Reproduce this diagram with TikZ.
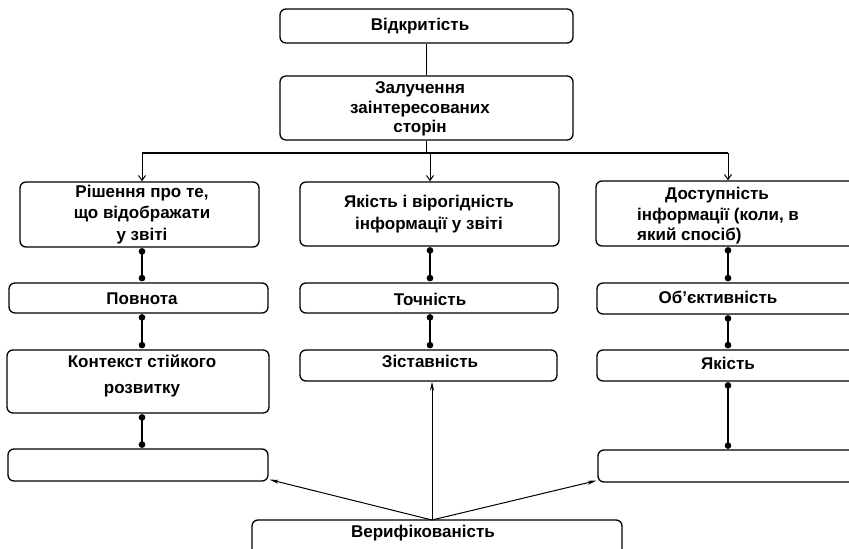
\documentclass[tikz,border=0pt]{standalone}
\usepackage{fontspec}
\setmainfont{Liberation Sans}
\usetikzlibrary{arrows.meta}
\newcommand\rbox[5]{\node[box, minimum width={#4pt-#2pt}, minimum height={#5pt-#3pt}] (#1) at ({(#2+#4)/2},{(#3+#5)/2}) {};}
\begin{document}
\begin{tikzpicture}[x=1pt,y=-1pt,
  box/.style={draw, line width=1.3pt, rounded corners=6pt, inner sep=0pt},
  txt/.style={font=\fontsize{17}{20.5}\selectfont\bfseries, align=center, inner sep=0pt},
  dotlink/.style={{Circle[length=6.5pt]}-{Circle[length=6.5pt]}, line width=2pt},
  dotlinkthin/.style={{Circle[length=6.5pt]}-{Circle[length=6.5pt]}, line width=1.2pt},
  branch/.style={-{Straight Barb[length=5pt,width=7pt]}, line width=1pt},
  verarrow/.style={-{Stealth[length=9pt,width=4pt]}, line width=1pt},
  plain/.style={line width=1.3pt}]
\useasboundingbox (0,0) rectangle (849,549);
\clip (0,0) rectangle (849,549);
\fill[white] (0,0) rectangle (849,549);
% columns
\coordinate (cL) at (142,0);
\coordinate (cM) at (430,0);
\coordinate (cR) at (728,0);
\coordinate (cT) at (426.5,0);
% boxes
\rbox{open}{280}{9}{573}{43}
\rbox{zal}{280}{76}{573}{140}
\rbox{rish}{20}{182}{259}{247}
\rbox{povn}{9}{283}{268}{313}
\rbox{kont}{7}{350}{269}{413}
\rbox{lastL}{8}{449}{268}{481}
\rbox{yak}{300}{182}{559}{246}
\rbox{toch}{300}{283}{558}{313}
\rbox{zist}{300}{350}{557}{381}
\rbox{dost}{596}{181}{856}{246}
\rbox{obj}{597}{283}{856}{314}
\rbox{yakR}{597}{350}{856}{381}
\rbox{lastR}{598}{450}{856}{482}
\rbox{ver}{252}{520}{622}{570}
% texts
\node[txt] (t-open) at (420,26) {Відкритість};
\node[txt, font=\fontsize{17}{19.5}\selectfont\bfseries] (t-zal) at (420,109) {Залучення\\заінтересованих\\сторін};
\node[txt] (t-rish) at (142,215) {Рішення про те,\\що відображати\\[2pt]у звіті};
\node[txt] (t-povn) at (142,299) {Повнота};
\node[txt] (t-kont) at (142,376) {Контекст стійкого\\[5pt]розвитку};
\node[txt, font=\fontsize{17}{22.5}\selectfont\bfseries] (t-yak) at (429,214) {Якість і вірогідність\\інформації у звіті};
\node[txt] (t-toch) at (430,299) {Точність};
\node[txt] (t-zist) at (430,361) {Зіставність};
\node[txt, align=left, anchor=west] (t-dost) at (637,216) {\hspace{28pt}Доступність\\інформації (коли, в\\який спосіб)};
\node[txt] (t-obj) at (718,297) {Об’єктивність};
\node[txt] (t-yakR) at (728,363) {Якість};
\node[txt] (t-ver) at (423,533) {Верифікованість};
% top connectors
\draw[plain] (open.south -| cT) -- (zal.north -| cT);
\coordinate (hub) at (426.5,153);
\draw[plain] (zal.south -| cT) -- (hub);
\draw[plain] (hub -| cL) -- (hub -| cR);
\draw[branch] (hub -| cL) -- (rish.north -| cL);
\draw[branch] (hub -| cM) -- (yak.north -| cM);
\draw[branch] (hub -| cR) -- (dost.north -| cR);
% dotted links
\draw[dotlink] ([yshift=-0.5pt]rish.south -| cL) -- ([yshift=1pt]povn.north -| cL);
\draw[dotlinkthin] ([yshift=-0.5pt]povn.south -| cL) -- ([yshift=1pt]kont.north -| cL);
\draw[dotlink] ([yshift=-0.5pt]kont.south -| cL) -- ([yshift=0.5pt]lastL.north -| cL);
\draw[dotlink] ([yshift=-0.5pt]yak.south -| cM) -- ([yshift=1pt]toch.north -| cM);
\draw[dotlinkthin] ([yshift=-0.5pt]toch.south -| cM) -- ([yshift=1pt]zist.north -| cM);
\draw[dotlink] ([yshift=-0.5pt]dost.south -| cR) -- ([yshift=1pt]obj.north -| cR);
\draw[dotlink] ([yshift=-0.5pt]obj.south -| cR) -- ([yshift=1pt]yakR.north -| cR);
\draw[dotlinkthin] ([yshift=-0.5pt]yakR.south -| cR) -- ([yshift=0.5pt]lastR.north -| cR);
% verification arrows
\coordinate (vtop) at (432,520);
\draw[verarrow] (vtop) -- (zist.south -| vtop);
\draw[verarrow] (vtop) -- ([xshift=1pt,yshift=2pt]lastL.south east);
\draw[verarrow] (vtop) -- ([xshift=-1pt,yshift=2pt]lastR.south west);
\end{tikzpicture}
\end{document}
